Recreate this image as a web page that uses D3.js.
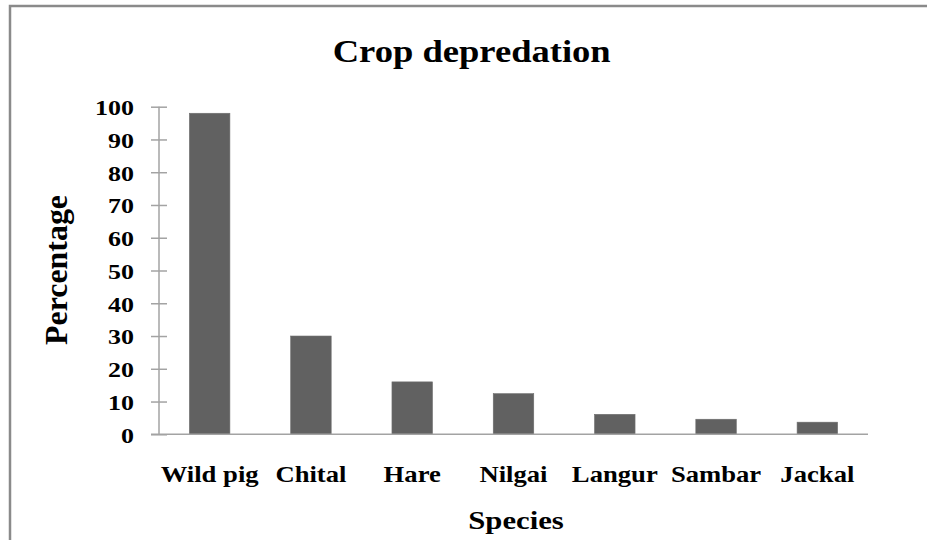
<!DOCTYPE html>
<html>
<head>
<meta charset="utf-8">
<script src="https://cdn.jsdelivr.net/npm/d3@7"></script>
<style>
  html, body { margin: 0; padding: 0; background: #fff; }
  svg { display: block; }
  text { font-family: "Liberation Serif", "Times New Roman", serif; font-weight: bold; fill: #000; }
</style>
</head>
<body>
<svg id="chart" width="927" height="540"></svg>
<script>
// Crop depredation by species (%)
const species = ["Wild pig", "Chital", "Hare", "Nilgai", "Langur", "Sambar", "Jackal"];
const percentages = [98, 30, 16, 12.4, 6.1, 4.6, 3.7];
const yTicks = [0, 10, 20, 30, 40, 50, 60, 70, 80, 90, 100];

const chartTitle = "Crop depredation";
const xTitle = "Species";
const yTitle = "Percentage";

const W = 927, H = 540;
const plot = { left: 159, right: 868, top: 106.7, bottom: 434.3 };
const stretch = 1.18; // wide serif lettering

const svg = d3.select("#chart");

// outer frame (open to the right and bottom edges)
svg.append("rect")
  .attr("x", 10).attr("y", 6)
  .attr("width", 1000).attr("height", 1000)
  .attr("fill", "none")
  .attr("stroke", "#8a8a8a")
  .attr("stroke-width", 2.5);

const x = d3.scaleBand()
  .domain(species)
  .range([plot.left, plot.right])
  .paddingInner(0.6)
  .paddingOuter(0.3);

const y = d3.scaleLinear()
  .domain([0, 100])
  .range([plot.bottom, plot.top]);

// helper: stretched text placed at (px, py)
function label(parent, str, px, py, size, anchor, sx, rotate) {
  const g = parent.append("g")
    .attr("transform", `translate(${px},${py})${rotate ? ` rotate(${rotate})` : ""} scale(${sx},1)`);
  g.append("text")
    .attr("text-anchor", anchor)
    .style("font-size", size + "px")
    .text(str);
  return g;
}

// bars
svg.append("g").selectAll("rect")
  .data(species)
  .join("rect")
  .attr("x", d => x(d))
  .attr("width", x.bandwidth())
  .attr("y", (d, i) => y(percentages[i]))
  .attr("height", (d, i) => y(0) - y(percentages[i]))
  .attr("fill", "#616161")
  .attr("stroke", "#6e6e6e")
  .attr("stroke-width", 0.6);

// y axis
const yAxis = svg.append("g")
  .attr("transform", `translate(${plot.left},0)`)
  .call(d3.axisLeft(y).tickValues(yTicks).tickSize(0).tickFormat(""));
yAxis.select(".domain").remove();
yAxis.selectAll(".tick line")
  .attr("x1", -8).attr("x2", 8)
  .attr("stroke", "#a3a3a3").attr("stroke-width", 1.5);
svg.append("line")
  .attr("x1", plot.left).attr("x2", plot.left)
  .attr("y1", y(100)).attr("y2", y(0))
  .attr("stroke", "#a3a3a3").attr("stroke-width", 1.5);

// y tick labels
const yLab = svg.append("g");
yTicks.forEach(t => label(yLab, String(t), 134, y(t) + 8.3, 22, "end", stretch));

// x axis line
svg.append("line")
  .attr("x1", plot.left - 8).attr("x2", plot.right)
  .attr("y1", y(0)).attr("y2", y(0))
  .attr("stroke", "#a3a3a3").attr("stroke-width", 1.5);

// category labels
const xLab = svg.append("g");
species.forEach(s => label(xLab, s, x(s) + x.bandwidth() / 2, 482, 24, "middle", 1.11));

// titles
label(svg, chartTitle, 471.7, 62, 31, "middle", stretch);
label(svg, xTitle, 516, 529, 26, "middle", stretch);
label(svg, yTitle, 67, 270, 31, "middle", 1.03, -90);
</script>
</body>
</html>
